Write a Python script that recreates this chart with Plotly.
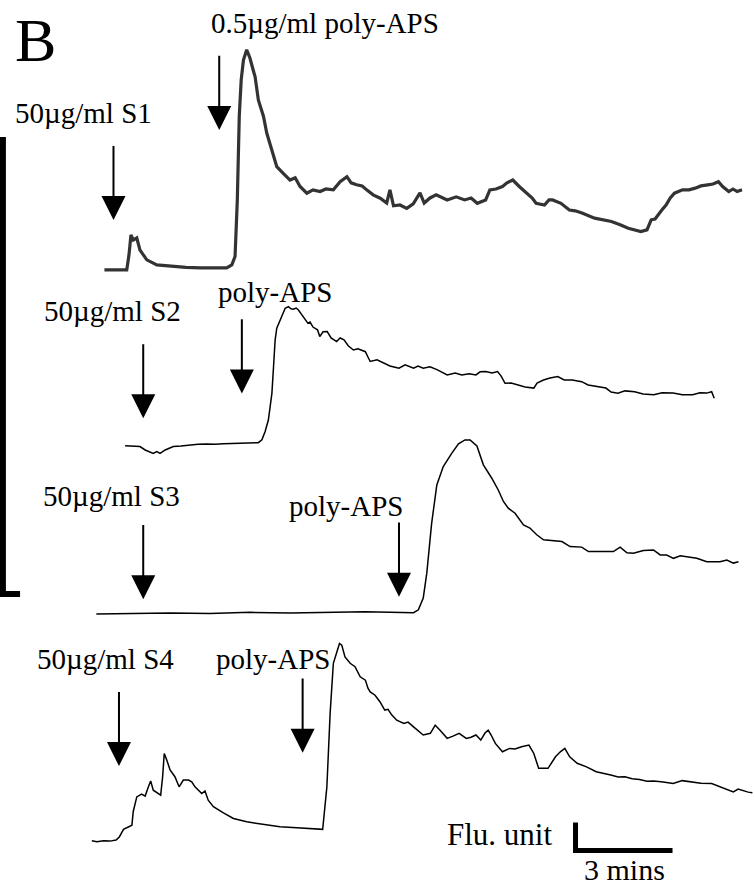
import plotly.graph_objects as go

# ---- Recordings: time (min) and fluorescence change (Flu. unit, baseline = 0) ----
t_s1 = [0.29, 0.62, 0.98, 1.05, 1.11, 1.18, 1.29, 1.39, 1.60, 1.91, 2.41, 2.81, 3.25, 3.71, 4.07,
        4.23, 4.33, 4.40, 4.46, 4.52, 4.59, 4.69, 4.79, 4.89, 4.95, 5.05, 5.21, 5.31, 5.47, 5.62,
        5.82, 6.03, 6.19, 6.34, 6.55, 6.74, 6.96, 7.14, 7.37, 7.58, 7.79, 7.92, 8.09, 8.26, 8.40,
        8.60, 8.82, 9.02, 9.12, 9.23, 9.43, 9.64, 9.84, 10.05, 10.18, 10.36, 10.55, 10.67, 10.89,
        11.17, 11.43, 11.63, 11.82, 12.08, 12.21, 12.40, 12.60, 12.74, 12.92, 13.12, 13.24, 13.38,
        13.52, 13.64, 13.90, 14.04, 14.15, 14.41, 14.67, 14.85, 15.06, 15.45, 15.97, 16.24, 16.49,
        16.88, 17.07, 17.20, 17.32, 17.53, 17.66, 17.79, 17.92, 18.17, 18.37, 18.56, 18.74, 18.95,
        19.11, 19.28, 19.41, 19.60, 19.73, 19.86, 20.01]
f_s1 = [0.00, 0.00, 0.00, 0.54, 1.25, 1.07, 1.14, 0.71, 0.36, 0.18, 0.12, 0.09, 0.07, 0.07, 0.07,
        0.18, 0.48, 2.50, 5.48, 6.79, 7.50, 7.86, 7.57, 7.14, 6.90, 6.07, 5.48, 4.89, 4.29, 3.69,
        3.45, 3.21, 3.29, 2.98, 2.74, 2.86, 2.80, 2.89, 2.86, 3.15, 3.33, 3.11, 3.04, 3.00, 2.86,
        2.68, 2.56, 2.39, 2.86, 2.29, 2.32, 2.20, 2.36, 2.75, 2.39, 2.57, 2.68, 2.61, 2.50,
        2.61, 2.50, 2.57, 2.38, 2.50, 2.86, 2.89, 2.98, 3.11, 3.21, 2.98, 2.86, 2.74,
        2.57, 2.38, 2.32, 2.50, 2.50, 2.38, 2.14, 2.11, 2.03, 1.85, 1.73, 1.61, 1.49,
        1.37, 1.43, 1.79, 1.82, 2.14, 2.32, 2.57, 2.74, 2.86, 2.86, 2.92, 3.00, 3.04,
        3.07, 3.15, 2.98, 2.80, 2.89, 2.80, 2.86]

t_s2 = [0.93, 1.18, 1.39, 1.55, 1.70, 1.80, 1.91, 2.01, 2.17, 2.42, 2.66, 2.94, 3.19, 3.45, 3.71,
        3.97, 4.24, 4.48, 4.79, 5.05, 5.16, 5.26, 5.36, 5.47, 5.52, 5.57, 5.62, 5.72, 5.88, 5.98,
        6.06, 6.13, 6.22, 6.29, 6.44, 6.58, 6.65, 6.74, 6.88, 6.95, 7.05, 7.18, 7.30, 7.47, 7.58,
        7.70, 7.83, 7.99, 8.13, 8.36, 8.44, 8.51, 8.72, 8.96, 9.12, 9.40, 9.59, 9.85, 9.99, 10.15,
        10.36, 10.59, 10.89, 11.14, 11.34, 11.57, 11.78, 11.91, 12.08, 12.28, 12.45, 12.56, 12.68,
        12.87, 13.12, 13.30, 13.57, 13.67, 13.87, 14.07, 14.31, 14.51, 14.76, 15.05, 15.25, 15.50,
        15.80, 15.96, 16.17, 16.39, 16.69, 16.95, 17.28, 17.54, 17.88, 18.16, 18.48, 18.71, 18.92,
        19.07, 19.15]
f_s2 = [-0.03, -0.06, -0.06, -0.18, -0.24, -0.30, -0.24, -0.30, -0.18, -0.06, -0.04, 0.00, 0.02,
        0.03, 0.02, 0.04, 0.05, 0.06, 0.07, 0.08, 0.18, 0.48, 0.89, 1.85, 2.80, 3.75, 4.17, 4.46,
        4.88, 4.94, 4.86, 4.85, 4.89, 4.82, 4.58, 4.35, 4.39, 4.21, 4.11, 3.87, 4.04, 4.05, 3.82,
        3.69, 3.82, 3.75, 3.54, 3.39, 3.43, 3.33, 3.14, 2.98, 3.04, 2.92, 2.82, 2.74, 2.86, 2.74,
        2.82, 2.74, 2.79, 2.68, 2.50, 2.57, 2.50, 2.54, 2.50, 2.61, 2.62, 2.57, 2.62, 2.46, 2.20,
        2.21, 2.14, 2.07, 2.03, 2.21, 2.32, 2.39, 2.44, 2.32, 2.32, 2.26, 2.14, 2.08, 2.03, 1.89,
        1.85, 1.93, 1.90, 1.82, 1.79, 1.86, 1.85, 1.79, 1.79, 1.86, 1.85, 1.90, 1.67]

t_s3 = [0.04, 1.08, 2.32, 3.56, 4.79, 6.03, 7.27, 8.35, 9.12, 9.85, 10.00, 10.15, 10.26, 10.41,
        10.57, 10.77, 11.03, 11.24, 11.44, 11.60, 11.81, 12.01, 12.27, 12.47, 12.63, 12.78, 12.99,
        13.25, 13.45, 13.66, 13.87, 14.44, 14.69, 15.05, 15.26, 16.03, 16.24, 16.45, 16.65, 16.96,
        17.27, 17.48, 17.68, 17.89, 18.10, 18.61, 18.92, 19.33, 19.54, 19.74, 19.90]
f_s3 = [-0.04, -0.02, 0.00, -0.02, 0.02, 0.00, 0.02, 0.04, 0.02, 0.01, 0.11, 0.53, 1.42, 3.20,
        4.57, 5.23, 5.70, 6.04, 6.18, 6.18, 5.96, 5.29, 4.81, 4.39, 3.98, 3.74, 3.56,
        3.14, 3.03, 2.79, 2.61, 2.55, 2.37, 2.35, 2.19, 2.19, 2.35, 2.15, 2.13, 2.23,
        2.25, 2.07, 2.07, 1.95, 2.04, 1.95, 1.83, 1.83, 1.89, 1.78, 1.83]

t_s4 = [-0.10, 0.06, 0.26, 0.46, 0.65, 0.75, 0.88, 1.03, 1.14, 1.18, 1.29, 1.44, 1.55, 1.65, 1.72,
        1.80, 1.96, 2.03, 2.09, 2.14, 2.22, 2.32, 2.47, 2.60, 2.73, 2.89, 2.99, 3.09, 3.30, 3.40,
        3.50, 3.66, 3.97, 4.28, 4.69, 5.21, 5.72, 6.24, 6.75, 7.04, 7.17, 7.27, 7.37, 7.48, 7.56,
        7.63, 7.73, 7.89, 8.04, 8.20, 8.36, 8.44, 8.51, 8.66, 8.81, 8.96, 9.06, 9.18, 9.33, 9.55,
        9.68, 9.85, 9.99, 10.15, 10.37, 10.52, 10.67, 10.89, 11.07, 11.26, 11.48, 11.63, 11.78,
        11.93, 12.06, 12.16, 12.25, 12.38, 12.60, 12.82, 12.99, 13.19, 13.42, 13.57, 13.72, 14.01,
        14.24, 14.39, 14.53, 14.68, 14.91, 15.20, 15.50, 15.71, 15.95, 16.18, 16.39, 16.61, 16.84,
        17.07, 17.28, 17.57, 17.88, 18.16, 18.48, 18.74, 19.07, 19.30, 19.52, 19.74, 19.89, 20.04,
        20.20, 20.33]
f_s4 = [0.01, -0.02, 0.01, 0.00, 0.04, 0.15, 0.42, 0.51, 0.57, 1.05, 1.58, 1.68, 1.61, 1.94, 2.15,
        1.82, 1.70, 1.64, 2.30, 3.13, 2.89, 2.54, 2.30, 1.94, 2.18, 2.18, 2.12, 1.94, 1.70, 1.79,
        1.46, 1.23, 1.01, 0.81, 0.69, 0.61, 0.51, 0.48, 0.43, 0.42, 1.94, 4.56, 6.35, 6.82, 7.06,
        7.00, 6.58, 6.35, 6.23, 5.87, 5.75, 5.46, 5.33, 5.21, 4.98, 4.68, 4.71, 4.50, 4.32, 4.20,
        4.25, 4.08, 3.96, 3.79, 3.85, 4.14, 3.96, 3.67, 3.75, 3.85, 3.67, 3.71, 3.79,
        3.61, 3.86, 3.96, 3.79, 3.49, 3.19, 3.31, 3.29, 3.37, 3.43, 3.13, 2.60, 2.60,
        3.01, 3.19, 3.31, 3.01, 2.78, 2.65, 2.48, 2.43, 2.36, 2.29, 2.30, 2.23, 2.20,
        2.14, 2.15, 2.11, 2.06, 2.16, 2.12, 2.07, 2.06, 1.96, 1.88, 1.76, 1.86, 1.80,
        1.75, 1.73]

# vertical stacking offset of each recording (Flu. unit)
offsets = [22.11, 15.86, 9.86, 1.71]

# stimulus labels, addition times (min) and arrow tip height above each trace's baseline
stim_labels = [["50µg/ml S1", "0.5µg/ml poly-APS"],
               ["50µg/ml S2", "poly-APS"],
               ["50µg/ml S3", "poly-APS"],
               ["50µg/ml S4", "poly-APS"]]
stim_times = [[0.57, 3.84], [1.49, 4.54], [1.49, 9.40], [0.74, 6.42]]
arrow_tips = [[1.78, 5.00], [0.95, 1.84], [0.49, 0.58], [2.68, 3.16]]
arrow_len = 2.7
# label anchor positions (left edge time, vertical centre)
label_pos = [[(-2.53, 27.71), (3.53, 30.93)],
             [(-1.63, 20.64), (3.74, 21.32)],
             [(-1.67, 14.04), (5.95, 13.68)],
             [(-1.87, 8.21), (3.68, 8.21)]]

# scale bars
scale_corner = (14.86, 1.375)
scale_minutes = 3
scale_units = 1
bracket_x = -2.85
bracket_foot = -2.32
bracket_y = (10.54, 26.86)

X_RANGE = [-2.94, 20.38]
Y_RANGE = [0, 31.75]

FONT = "Liberation Serif, Times New Roman, serif"

traces = [(t_s1, f_s1, "#333333", 3.2),
          (t_s2, f_s2, "black", 1.5),
          (t_s3, f_s3, "black", 1.5),
          (t_s4, f_s4, "black", 1.5)]

fig = go.Figure()
for (t, f, col, w), off in zip(traces, offsets):
    fig.add_trace(go.Scatter(x=t, y=[v + off for v in f], mode="lines",
                             line=dict(color=col, width=w), hoverinfo="skip"))

# left bracket bar
fig.add_trace(go.Scatter(x=[bracket_x, bracket_x, bracket_foot],
                         y=[bracket_y[1], bracket_y[0], bracket_y[0]],
                         mode="lines", line=dict(color="black", width=6), hoverinfo="skip"))

# Flu. unit / time scale bar
cx, cy = scale_corner
fig.add_trace(go.Scatter(x=[cx, cx, cx + scale_minutes],
                         y=[cy + scale_units, cy, cy],
                         mode="lines", line=dict(color="black", width=5), hoverinfo="skip"))

annotations = []
for i in range(4):
    for j in range(2):
        tip = offsets[i] + arrow_tips[i][j]
        annotations.append(dict(x=stim_times[i][j], y=tip, ax=stim_times[i][j], ay=tip + arrow_len,
                                xref="x", yref="y", axref="x", ayref="y", text="",
                                showarrow=True, arrowhead=2, arrowwidth=2, arrowsize=2.4,
                                arrowcolor="black", standoff=0))
        lx, ly = label_pos[i][j]
        annotations.append(dict(x=lx, y=ly, xref="x", yref="y", text=stim_labels[i][j],
                                showarrow=False, xanchor="left", yanchor="middle",
                                font=dict(family=FONT, size=29, color="black")))

annotations.append(dict(x=-2.54, y=30.32, xref="x", yref="y", text="B", showarrow=False,
                        xanchor="left", yanchor="middle",
                        font=dict(family=FONT, size=62, color="black")))
annotations.append(dict(x=10.83, y=1.96, xref="x", yref="y", text="Flu. unit", showarrow=False,
                        xanchor="left", yanchor="middle",
                        font=dict(family=FONT, size=31, color="black")))
annotations.append(dict(x=15.05, y=0.70, xref="x", yref="y", text="3 mins", showarrow=False,
                        xanchor="left", yanchor="middle",
                        font=dict(family=FONT, size=30, color="black")))

fig.update_layout(width=754, height=889, margin=dict(l=0, r=0, t=0, b=0),
                  paper_bgcolor="white", plot_bgcolor="white", showlegend=False,
                  annotations=annotations)
fig.update_xaxes(range=X_RANGE, visible=False, fixedrange=True)
fig.update_yaxes(range=Y_RANGE, visible=False, fixedrange=True)

fig.write_html("out.html", config={"displayModeBar": False})
